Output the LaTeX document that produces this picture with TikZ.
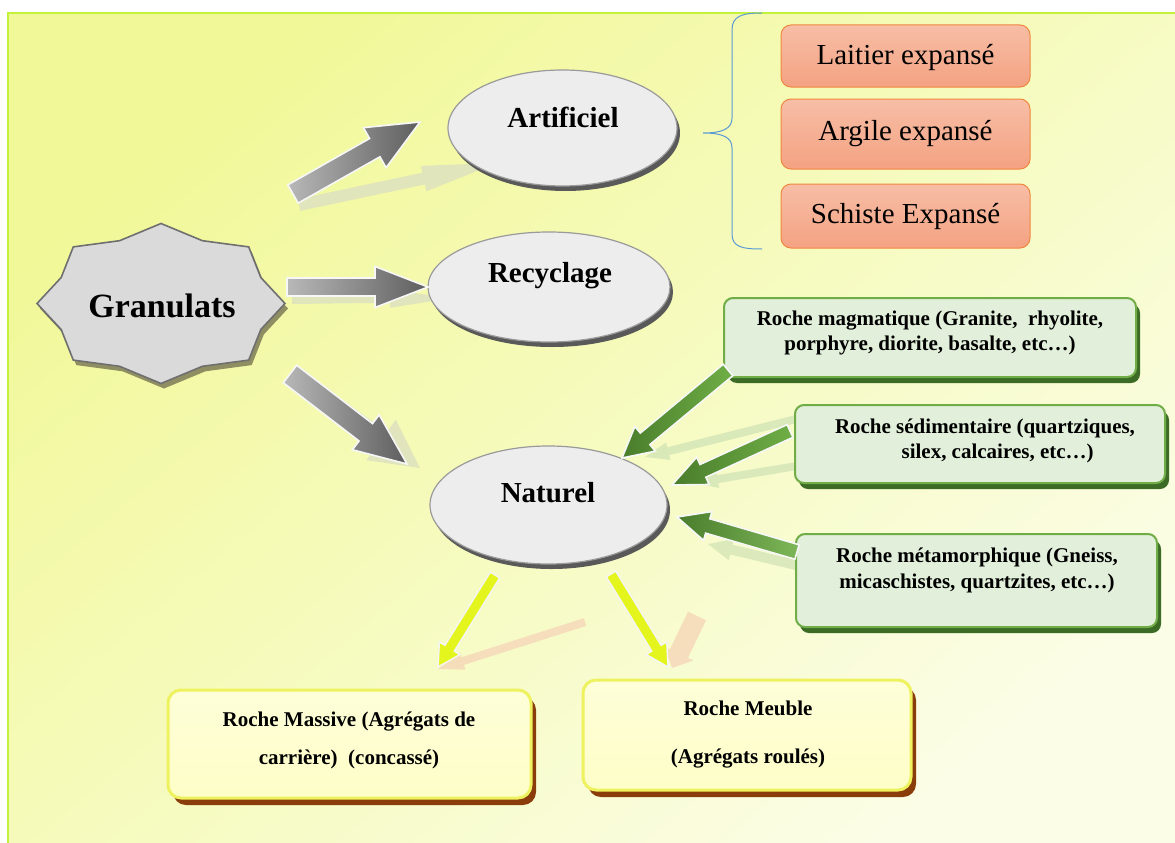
\documentclass[tikz,border=0pt]{standalone}
\usepackage{fontspec}
\setmainfont{Liberation Serif}
\usetikzlibrary{shapes.geometric,shadows,calc}
\definecolor{bgA}{HTML}{F1F898}
\definecolor{bgB}{HTML}{FBFDE6}
\definecolor{frameC}{HTML}{C3F23A}
\definecolor{ellF}{HTML}{EDEDED}
\definecolor{ellD}{HTML}{9A9A9A}
\definecolor{ellS}{HTML}{595959}
\definecolor{starF}{HTML}{DADADA}
\definecolor{starD}{HTML}{6F6F6F}
\definecolor{starS}{HTML}{8E8E62}
\definecolor{orA}{HTML}{F7BEA6}
\definecolor{orB}{HTML}{F4A282}
\definecolor{orD}{HTML}{F0873F}
\definecolor{grF}{HTML}{E2EFDA}
\definecolor{grD}{HTML}{70AD47}
\definecolor{grS}{HTML}{3C6B26}
\definecolor{yeF}{HTML}{FEFEC8}
\definecolor{yeD}{HTML}{EEF25E}
\definecolor{yeS}{HTML}{8A3D0A}
\definecolor{braceC}{HTML}{5B9BD5}
\definecolor{arG1}{HTML}{B8B8B8}
\definecolor{arG2}{HTML}{5E5E5E}
\definecolor{arNd}{HTML}{4A7D2C}
\definecolor{arNl}{HTML}{6FAE46}
\definecolor{arY}{HTML}{E4F51E}
\definecolor{shGray}{HTML}{DEE2C0}
\definecolor{shGreen}{HTML}{CFE2B4}
\definecolor{shOr}{HTML}{F6D6B8}
\newcommand\blockarrow[6]{%
  \pgfpointdiff{\pgfpointanchor{#2}{center}}{\pgfpointanchor{#3}{center}}%
  \pgfgetlastxy{\bax}{\bay}%
  \pgfmathsetmacro\baang{atan2(\bay,\bax)}%
  \pgfmathsetmacro\balen{veclen(\bax,\bay)}%
  \begin{scope}[shift={(#2)},rotate=\baang]
    \path[#1] (0,{-#4}) -- ({\balen-#6},{-#4}) -- ({\balen-#6},{-#5}) -- (\balen,0)
      -- ({\balen-#6},{#5}) -- ({\balen-#6},{#4}) -- (0,{#4}) -- cycle;
  \end{scope}}
\begin{document}
\begin{tikzpicture}[x=1pt,y=-1pt,
  ell/.style={ellipse, fill=ellF, draw=ellD, line width=1.2pt, inner sep=0pt,
    drop shadow={shadow xshift=3pt, shadow yshift=-5pt, fill=ellS, opacity=1}},
  ellT/.style={font=\fontsize{29}{34}\selectfont\bfseries, anchor=base, inner sep=0pt},
  orbox/.style={rectangle, rounded corners=10pt, draw=orD, line width=1pt,
    top color=orA, bottom color=orB, minimum width=249pt, inner sep=0pt},
  orT/.style={font=\fontsize{29}{34}\selectfont, anchor=base, inner sep=0pt},
  grbox/.style={rectangle, rounded corners=9pt, draw=grD, line width=2pt, fill=grF, inner sep=0pt,
    drop shadow={shadow xshift=4pt, shadow yshift=-6pt, fill=grS, opacity=1}},
  grT/.style={font=\fontsize{21}{25.5}\selectfont\bfseries, align=center, inner sep=0pt},
  yebox/.style={rectangle, rounded corners=13pt, draw=yeD, line width=3pt, inner sep=0pt,
    top color=yeF!70!white, bottom color=yeF,
    drop shadow={shadow xshift=5pt, shadow yshift=-7pt, fill=yeS, opacity=1}},
  yeT/.style={font=\fontsize{21}{38}\selectfont\bfseries, align=center, inner sep=0pt},
  grayarr/.style={left color=arG1, right color=arG2, draw=white!94!gray, line width=1.6pt},
  greenarr/.style={left color=arNd, right color=arNl, draw=white!94!gray, line width=1.6pt},
  greenarrB/.style={left color=arNd, right color=arNl!90!white, draw=white!94!gray, line width=1.6pt},
  yelarr/.style={fill=arY, draw=white!92!gray, line width=1.4pt},
  shadowG/.style={fill=shGray, fill opacity=0.85},
  shadowN/.style={fill=shGreen, fill opacity=0.7},
  shadowO/.style={fill=shOr, fill opacity=0.8}]
\useasboundingbox (0,0) rectangle (1175,843);
\fill[white] (0,0) rectangle (1175,843);
\shade[left color=bgA, right color=bgB, shading angle=40] (8,13) rectangle (1182,850);
\draw[frameC, line width=2.5pt] (8,850) -- (8,13) -- (1182,13);

% brace
\draw[braceC, line width=1pt] (762,13) .. controls (742,13) and (732,16) .. (732,30) -- (732,118)
  .. controls (732,128) and (724,133) .. (703,133) .. controls (724,133) and (732,138) .. (732,148)
  -- (732,234) .. controls (732,247) and (742,249) .. (762,249);

% star
\path[fill=starF, draw=starD, line width=1.6pt,
  drop shadow={shadow xshift=3pt, shadow yshift=-5pt, fill=starS, opacity=1}]
  (161,223.5) -- (202.4,240.7) -- (248.7,246.9) -- (260.8,277.5) -- (285,303.5) -- (260.8,329.5)
  -- (248.7,360.1) -- (202.4,366.3) -- (161,383.5) -- (119.6,366.3) -- (73.3,360.1) -- (61.2,329.5)
  -- (37,303.5) -- (61.2,277.5) -- (73.3,246.9) -- (119.6,240.7) -- cycle;
\node[font=\fontsize{34}{40}\selectfont\bfseries, anchor=base, inner sep=0pt] (gran) at (162,317) {Granulats};

% faint shadows of arrows
\coordinate (s1a) at (299,205); \coordinate (s1b) at (497,163);
\coordinate (s2a) at (292,300); \coordinate (s2b) at (452,298);
\coordinate (s3a) at (298,380); \coordinate (s3b) at (420,468);
\coordinate (s4a) at (812,415); \coordinate (s4b) at (645,457);
\coordinate (s5a) at (845,458); \coordinate (s5b) at (694,483);
\coordinate (s6a) at (800,566); \coordinate (s6b) at (708,544);
\coordinate (s7a) at (585,622); \coordinate (s7b) at (438,669);
\coordinate (s8a) at (697,616); \coordinate (s8b) at (672,668);
\blockarrow{shadowG}{s1a}{s1b}{6}{13}{75}
\blockarrow{shadowG}{s2a}{s2b}{4}{9}{62}
\blockarrow{shadowG}{s3a}{s3b}{10}{25}{48}
\blockarrow{shadowN}{s4a}{s4b}{4}{9}{24}
\blockarrow{shadowN}{s5a}{s5b}{4}{9}{24}
\blockarrow{shadowN}{s6a}{s6b}{5}{11}{24}
\blockarrow{shadowO}{s7a}{s7b}{4}{9}{26}
\blockarrow{shadowO}{s8a}{s8b}{10}{16}{16}

% ellipses
\node[ell, minimum width=229pt, minimum height=116pt] (art) at (562.5,128) {};
\node[ellT] (artT) at (563,127) {Artificiel};
\node[ell, minimum width=242pt, minimum height=110pt] (rec) at (549,287) {};
\node[ellT] (recT) at (550,282) {Recyclage};
\node[ell, minimum width=237pt, minimum height=118pt] (nat) at (548.5,505) {};
\node[ellT] (natT) at (548,502) {Naturel};

% orange boxes
\node[orbox, minimum height=62pt] (lait) at (905.5,56) {};
\node[orT] (laitT) at (905.5,64) {Laitier expansé};
\node[orbox, minimum height=70pt] (argi) at (905.5,134) {};
\node[orT] (argiT) at (905.5,140) {Argile expansé};
\node[orbox, minimum height=64pt] (schi) at (905.5,216) {};
\node[orT] (schiT) at (905.5,223) {Schiste Expansé};

% green boxes
\node[grbox, minimum width=412pt, minimum height=79pt] (mag) at (930,337.5) {};
\node[grT] (magT) at (930,333) {Roche magmatique (Granite,\ \ rhyolite,\\porphyre, diorite, basalte, etc…)};
\node[grbox, minimum width=370pt, minimum height=78pt] (sed) at (980,444) {};
\node[grT] (sedT) at (985,441) {Roche sédimentaire (quartziques,\\\hspace*{1.2em}silex, calcaires, etc…)};
\node[grbox, minimum width=361pt, minimum height=93pt] (meta) at (976.5,580.5) {};
\node[grT] (metaT) at (977,570.5) {Roche métamorphique (Gneiss,\\micaschistes, quartzites, etc…)};

% yellow boxes
\node[yebox, minimum width=363pt, minimum height=108pt] (mass) at (349.5,744) {};
\node[yeT] (massT) at (349,740) {Roche Massive (Agrégats de\\carrière)\ \ (concassé)};
\node[yebox, minimum width=328pt, minimum height=110pt] (meub) at (747,735) {};
\node[yeT, font=\fontsize{21}{48}\selectfont\bfseries] (meubT) at (748,735) {Roche Meuble\\(Agrégats roulés)};

% main arrows
\coordinate (a1a) at (293,194); \coordinate (a1b) at (420,122);
\coordinate (a2a) at (287,287); \coordinate (a2b) at (428,287);
\coordinate (a3a) at (290,374); \coordinate (a3b) at (407,464);
\blockarrow{grayarr}{a1a}{a1b}{10.5}{23}{52}
\blockarrow{grayarr}{a2a}{a2b}{9}{20.5}{53}
\blockarrow{grayarr}{a3a}{a3b}{11}{22}{52}
\coordinate (g1a) at (728,370); \coordinate (g1b) at (622,458);
\coordinate (g2a) at (790,431); \coordinate (g2b) at (672,485);
\coordinate (g3a) at (797,552); \coordinate (g3b) at (677,517);
\blockarrow{greenarr}{g1a}{g1b}{7.5}{16}{30}
\blockarrow{greenarr}{g2a}{g2b}{7}{15}{34}
\blockarrow{greenarrB}{g3a}{g3b}{7.5}{15}{32}
\coordinate (y1a) at (495,575); \coordinate (y1b) at (438,667);
\coordinate (y2a) at (611,574); \coordinate (y2b) at (668,667);
\blockarrow{yelarr}{y1a}{y1b}{5.5}{12}{22}
\blockarrow{yelarr}{y2a}{y2b}{5.5}{12}{22}
\end{tikzpicture}
\end{document}
